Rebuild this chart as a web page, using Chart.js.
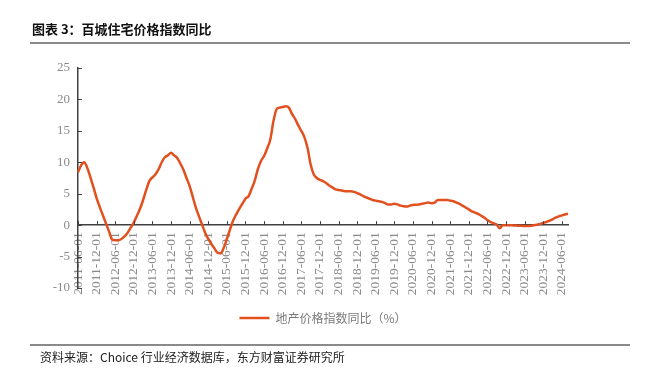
<!DOCTYPE html>
<html>
<head>
<meta charset="utf-8">
<script src="https://cdn.jsdelivr.net/npm/chart.js@4.4.1/dist/chart.umd.min.js"></script>
<style>
  html, body { margin: 0; padding: 0; background: #fff; }
  #wrap { position: relative; width: 649px; height: 377px; overflow: hidden; }
  #chart { position: absolute; left: 0; top: 0; }
  .title {
    position: absolute; left: 32px; top: 19px;
    font: bold 13px "Noto Sans CJK SC", sans-serif; color: #111; white-space: nowrap;
  }
  .rule { position: absolute; left: 30px; width: 600px; height: 2px; background: #8a8a8a; }
  .source {
    position: absolute; left: 40px; top: 348px;
    font: 12px "Noto Sans CJK SC", sans-serif; color: #222; white-space: nowrap;
  }
</style>
</head>
<body>
<div id="wrap">
  <canvas id="chart" width="649" height="377"></canvas>
  <div class="title">图表 3：百城住宅价格指数同比</div>
  <div class="rule" style="top:42px"></div>
  <div class="rule" style="top:344px"></div>
  <div class="source">资料来源：Choice 行业经济数据库，东方财富证券研究所</div>
</div>
<script>
// 百城住宅价格指数同比（%），月度，2011-06 ~ 2024-08
const y2011 = [8.4, 9.5, 10.0, 9.1, 7.6, 6.0, 4.3];  // 6月起
const y2012 = [2.9, 1.6, 0.3, -1.0, -2.3, -2.4, -2.4, -2.2, -1.8, -1.2, -0.4, 0.4];
const y2013 = [1.5, 2.6, 4.0, 5.6, 7.0, 7.6, 8.1, 8.9, 10.0, 10.8, 11.1, 11.5];
const y2014 = [11.1, 10.7, 9.8, 8.8, 7.5, 6.2, 4.5, 2.8, 1.4, 0.1, -1.2, -2.2];
const y2015 = [-3.0, -3.7, -4.4, -4.5, -3.6, -2.2, -0.7, 0.7, 1.7, 2.6, 3.4, 4.2];
const y2016 = [4.6, 5.8, 7.1, 8.9, 10.2, 11.0, 12.2, 13.6, 16.5, 18.4, 18.7, 18.8];
const y2017 = [18.9, 18.7, 17.7, 16.9, 15.9, 15.0, 14.0, 12.3, 9.7, 8.1, 7.5, 7.2];
const y2018 = [7.0, 6.7, 6.3, 6.0, 5.7, 5.6, 5.5, 5.4, 5.4, 5.4, 5.3, 5.1];
const y2019 = [4.9, 4.6, 4.4, 4.2, 4.0, 3.9, 3.8, 3.7, 3.5, 3.3, 3.3, 3.4];
const y2020 = [3.3, 3.1, 3.0, 2.95, 3.1, 3.2, 3.25, 3.3, 3.4, 3.5, 3.6, 3.5];
const y2021 = [3.6, 4.0, 4.0, 4.0, 4.0, 3.9, 3.8, 3.6, 3.4, 3.1, 2.8, 2.5];
const y2022 = [2.2, 2.0, 1.8, 1.5, 1.2, 0.8, 0.5, 0.3, 0.1, -0.5, 0.0, 0.0];
const y2023 = [0.0, -0.03, -0.05, -0.1, -0.1, -0.15, -0.15, -0.1, 0.0, 0.05, 0.2, 0.35];
const y2024 = [0.5, 0.7, 0.9, 1.2, 1.4, 1.55, 1.7, 1.8];  // 到8月

const values = [].concat(y2011, y2012, y2013, y2014, y2015, y2016, y2017,
                         y2018, y2019, y2020, y2021, y2022, y2023, y2024);

// 月份类别 2011-06-01 起
const months = [];
for (let i = 0; i < values.length; i++) {
    const m = 5 + i;
    const yy = 2011 + Math.floor(m / 12);
    const mm = String(m % 12 + 1).padStart(2, '0');
    months.push(`${yy}-${mm}-01`);
}

const yTicks = [-10, -5, 0, 5, 10, 15, 20, 25];
const seriesName = '地产价格指数同比（%）';
const lineColor = '#E2501F';
const axisColor = '#404040';
const labelColor = '#8a8a8a';

// 刻度线朝内画
const innerTicks = {
    id: 'innerTicks',
    afterDraw(chart) {
        const { ctx, scales: { x, y } } = chart;
        ctx.save();
        ctx.strokeStyle = axisColor;
        ctx.lineWidth = 1;
        const zero = y.getPixelForValue(0);
        months.forEach((m, i) => {
            if (i % 6 !== 0) return;
            const px = Math.round(x.getPixelForValue(i)) + 0.5;
            ctx.beginPath();
            ctx.moveTo(px, zero - 4);
            ctx.lineTo(px, zero);
            ctx.stroke();
        });
        yTicks.forEach(v => {
            const py = Math.round(y.getPixelForValue(v)) + 0.5;
            ctx.beginPath();
            ctx.moveTo(y.right, py);
            ctx.lineTo(y.right + 4, py);
            ctx.stroke();
        });
        ctx.restore();
    }
};

new Chart(document.getElementById('chart'), {
    type: 'line',
    data: {
        labels: months,
        datasets: [{
            label: seriesName,
            data: values,
            borderColor: lineColor,
            backgroundColor: lineColor,
            borderWidth: 2.5,
            pointRadius: 0,
            cubicInterpolationMode: 'monotone'
        }]
    },
    options: {
        responsive: false,
        animation: false,
        layout: { padding: { left: 30, right: 81, top: 68, bottom: 43 } },
        scales: {
            x: {
                position: { y: 0 },
                offset: false,
                grid: { display: false, drawTicks: false },
                border: { display: true, color: axisColor, width: 1.5 },
                ticks: {
                    autoSkip: false,
                    minRotation: 90,
                    maxRotation: 90,
                    padding: 7,
                    color: labelColor,
                    font: { family: 'Liberation Serif', size: 13.5 },
                    callback: (v, i) => (i % 6 === 0 ? months[i] : null)
                }
            },
            y: {
                min: -10,
                max: 25,
                afterBuildTicks: s => { s.ticks = yTicks.map(v => ({ value: v })); },
                afterFit: s => { s.width = 48; },
                grid: { display: false, drawTicks: false },
                border: { display: true, color: axisColor, width: 1.5 },
                ticks: {
                    padding: 8,
                    color: labelColor,
                    font: { family: 'Liberation Serif', size: 13 }
                }
            }
        },
        plugins: {
            legend: {
                position: 'bottom',
                fullSize: false,
                labels: {
                    usePointStyle: true,
                    pointStyle: 'line',
                    pointStyleWidth: 30,
                    padding: 24,
                    color: '#7a7a7a',
                    font: { family: 'Noto Sans CJK SC', size: 12 }
                }
            },
            tooltip: { enabled: false }
        }
    },
    plugins: [innerTicks]
});
</script>
</body>
</html>
